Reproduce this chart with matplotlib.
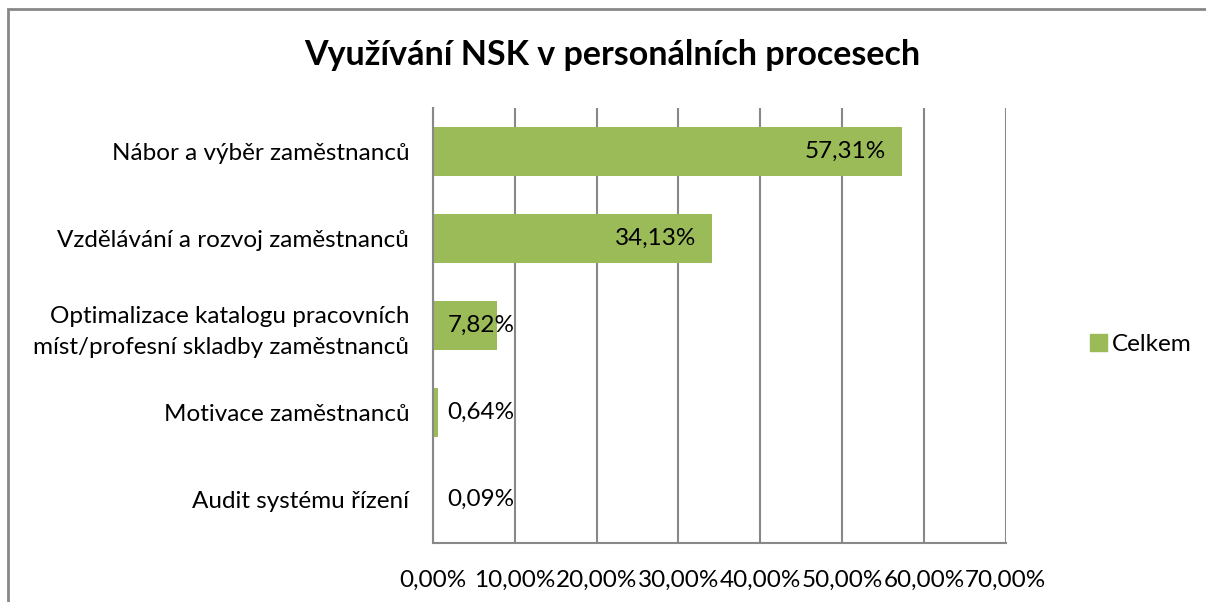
import matplotlib.pyplot as plt
from matplotlib.patches import Rectangle, Patch

plt.rcParams['font.family'] = ['Lato', 'DejaVu Sans']

categories = ['Nábor a výběr zaměstnanců',
              'Vzdělávání a rozvoj zaměstnanců',
              'Optimalizace katalogu pracovních\nmíst/profesní skladby zaměstnanců',
              'Motivace zaměstnanců',
              'Audit systému řízení']
values = [57.31, 34.13, 7.82, 0.64, 0.09]
value_labels = ['57,31%', '34,13%', '7,82%', '0,64%', '0,09%']
ticks = [0, 10, 20, 30, 40, 50, 60, 70]
tick_labels = ['0,00%', '10,00%', '20,00%', '30,00%', '40,00%', '50,00%', '60,00%', '70,00%']

green = '#9BBB59'
gray = '#888888'
fs = 17.5

fig = plt.figure(figsize=(12.06, 6.02), dpi=100)
ax = fig.add_axes([0.359, 0.098, 0.475, 0.723])

ypos = list(range(len(categories)))
ax.barh(ypos, values, height=0.56, color=green, zorder=2)
ax.set_ylim(len(categories) - 0.5, -0.5)
ax.set_xlim(0, 70)

# data labels, inside end (pushed out for small bars)
for y, v, lab in zip(ypos, values, value_labels):
    ax.text(max(v, 12) - 2, y, lab, ha='right', va='center', fontsize=fs, zorder=3)

ax.set_yticks(ypos)
ax.set_yticklabels(categories, fontsize=fs, ha='right', linespacing=1.55)
ax.set_xticks(ticks)
ax.set_xticklabels(tick_labels, fontsize=fs)
ax.tick_params(axis='both', length=0)
ax.tick_params(axis='y', pad=17)
ax.tick_params(axis='x', pad=19)

ax.xaxis.grid(True, color=gray, linewidth=1.5, zorder=0)
ax.set_axisbelow(True)
for s in ['top', 'right']:
    ax.spines[s].set_visible(False)
for s in ['left', 'bottom']:
    ax.spines[s].set_color(gray)
    ax.spines[s].set_linewidth(1.5)

fig.text(0.508, 0.908, 'Využívání NSK v personálních procesech',
         ha='center', va='center', fontsize=24.5, fontweight='bold')

fig.legend(handles=[Patch(color=green, label='Celkem')], loc='center left',
           bbox_to_anchor=(0.886, 0.428), frameon=False, fontsize=fs,
           handlelength=0.7, handleheight=0.7, handletextpad=0.2)

# chart border (cropped on right and bottom)
fig.add_artist(Rectangle((0.0068, -0.1), 1.2, 1.085, transform=fig.transFigure,
                         fill=False, edgecolor=gray, linewidth=2))

fig.savefig('out.png', dpi=100)
